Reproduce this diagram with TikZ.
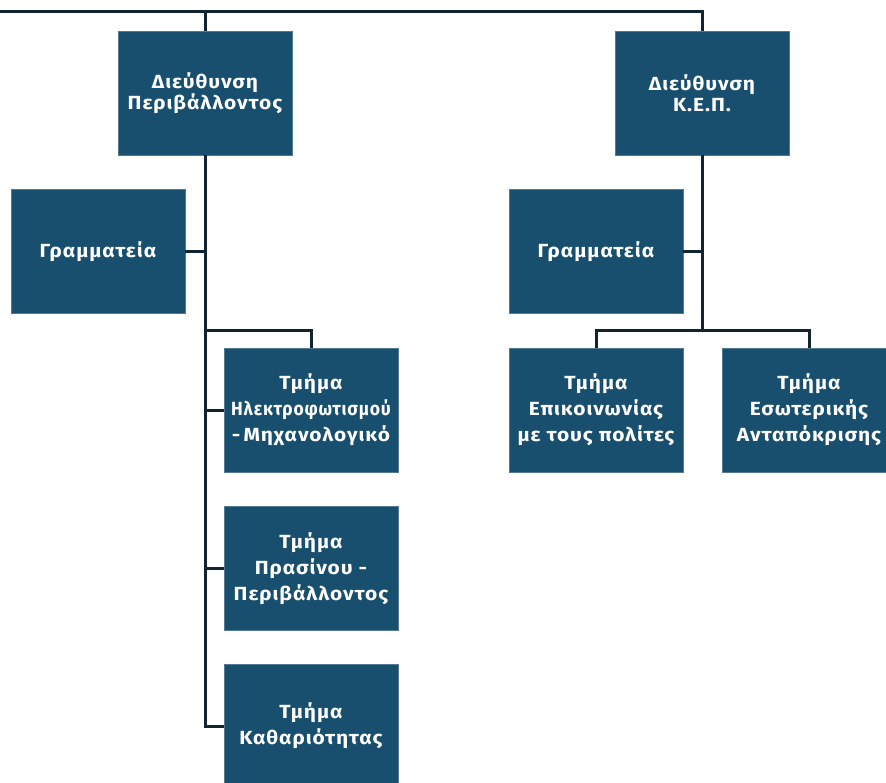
\documentclass[tikz,border=0pt]{standalone}
\usepackage{fontspec}
\setmainfont{Fira Sans}[FakeStretch=1.1, LetterSpace=5]
\definecolor{boxblue}{HTML}{184E6E}
\definecolor{linedark}{HTML}{10252F}
\begin{document}
\begin{tikzpicture}[x=1pt,y=-1pt,
  box/.style={rectangle, fill=boxblue, draw=boxblue!75!white, line width=0.6pt, minimum width=174pt, minimum height=124pt, inner sep=0pt, text=white, align=center, font=\fontsize{19}{21}\selectfont\bfseries},
  dept/.style={box, font=\fontsize{19}{26}\selectfont\bfseries},
  conn/.style={draw=linedark, line width=3pt}]
\useasboundingbox (0,0) rectangle (886,783);
\node[box] (dir1) at (205,93) {Διεύθυνση\\Περιβάλλοντος};
\node[box] (dir2) at (702,93) {Διεύθυνση\\Κ.Ε.Π.};
\node[box] (sec1) at (98,251.5) {Γραμματεία};
\node[box] (sec2) at (596,251.5) {Γραμματεία};
\node[dept] (t1) at (311,410) {Τμήμα\\\scalebox{0.84}[1]{Ηλεκτροφωτισμού}\\-\,Μηχανολογικό};
\node[dept] (t2) at (311,568.5) {Τμήμα\\Πρασίνου -\\Περιβάλλοντος};
\node[dept] (t3) at (311,726) {Τμήμα\\Καθαριότητας};
\node[dept] (t4) at (596,410) {Τμήμα\\Επικοινωνίας\\με τους πολίτες};
\node[dept] (t5) at (809,410) {Τμήμα\\Εσωτερικής\\Ανταπόκρισης};
\coordinate (topL) at (0,12);
\coordinate (brL) at (205,331);
\coordinate (brR) at (702,331);
\draw[conn] (topL) -| (dir2.north);
\draw[conn] (dir1.north |- topL) -- (dir1.north);
\draw[conn] (dir1.south) |- (t3.west);
\draw[conn] (sec1.east) -- (sec1.east -| dir1.south);
\draw[conn] (brL) -| (t1.north);
\draw[conn] (t1.west -| brL) -- (t1.west);
\draw[conn] (t2.west -| brL) -- (t2.west);
\draw[conn] (dir2.south) -- (brR);
\draw[conn] (sec2.east) -- (sec2.east -| brR);
\draw[conn] (t4.north) |- (brR) -| (t5.north);
\end{tikzpicture}
\end{document}
